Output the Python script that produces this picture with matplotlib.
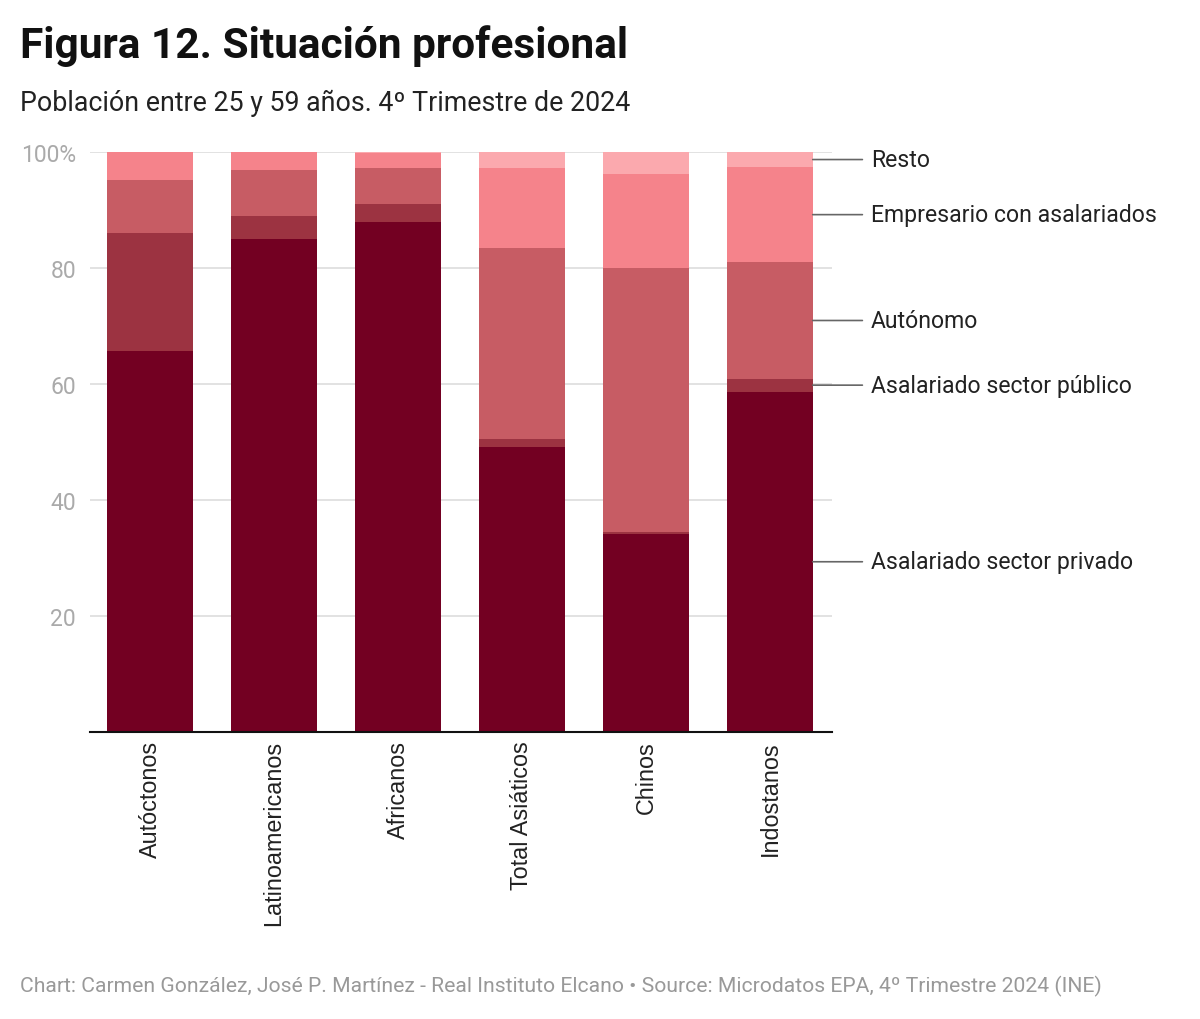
import numpy as np
import matplotlib
matplotlib.use("Agg")
import matplotlib.pyplot as plt

plt.rcParams['font.family'] = ['Roboto', 'DejaVu Sans']

categories = ['Autóctonos', 'Latinoamericanos', 'Africanos', 'Total Asiáticos', 'Chinos', 'Indostanos']
privado = [65.7, 85.0, 87.9, 49.1, 34.1, 58.7]
publico = [20.3, 4.0, 3.1, 1.4, 0.3, 2.2]
autonomo = [9.2, 7.9, 6.2, 33.0, 45.6, 20.1]
empresario = [4.8, 3.1, 2.6, 13.7, 16.2, 16.4]
resto = [0.0, 0.0, 0.2, 2.8, 3.8, 2.6]

series_names = ['Asalariado sector privado', 'Asalariado sector público', 'Autónomo',
                'Empresario con asalariados', 'Resto']
series = [privado, publico, autonomo, empresario, resto]
colors = ['#730022', '#9c3341', '#c75c64', '#f5838b', '#fba9ae']

yticks = [20, 40, 60, 80, 100]
ytick_labels = ['20', '40', '60', '80', '100%']

fig = plt.figure(figsize=(12, 10.2), dpi=100)
ax = fig.add_axes([0.075, 0.2814, 0.6183, 0.5686])

x = np.arange(len(categories))
width = 0.69
bottom = np.zeros(len(categories))
for vals, col in zip(series, colors):
    ax.bar(x, vals, width, bottom=bottom, color=col, linewidth=0, zorder=2)
    bottom += np.array(vals)

ax.set_xlim(-0.484, 5.5)
ax.set_ylim(0, 100)
ax.set_yticks(yticks)
ax.set_yticklabels(ytick_labels)
ax.grid(axis='y', color='#e2e2e2', linewidth=1.4, zorder=0)
ax.set_axisbelow(True)
ax.tick_params(axis='y', length=0, pad=10, labelsize=16.5, labelcolor='#aaaaaa')
ax.tick_params(axis='x', length=0, pad=6)
ax.set_xticks(x)
ax.set_xticklabels(categories, rotation=90, fontsize=16.8, family='Liberation Sans', color='#222222', va='top')
for side in ['top', 'right', 'left']:
    ax.spines[side].set_visible(False)
ax.spines['bottom'].set_color('#111111')
ax.spines['bottom'].set_linewidth(1.5)

# series labels next to the last bar
last = len(categories) - 1
cum = 0.0
for name, vals in zip(series_names, series):
    mid = cum + vals[last] / 2
    cum += vals[last]
    ax.annotate(name, xy=(last + width / 2, mid), xytext=(58, 0), textcoords='offset pixels',
                ha='left', va='center', fontsize=16.6, color='#222222', annotation_clip=False,
                arrowprops=dict(arrowstyle='-', color='#666666', lw=1.2, shrinkA=4, shrinkB=0))

fig.text(0.0167, 0.955, 'Figura 12. Situación profesional', fontsize=30.5, fontweight='bold',
         color='#111111', va='center', ha='left')
fig.text(0.0167, 0.899, 'Población entre 25 y 59 años. 4º Trimestre de 2024', fontsize=19.3,
         color='#222222', va='center', ha='left')
fig.text(0.0167, 0.033, 'Chart: Carmen González, José P. Martínez - Real Instituto Elcano • Source: Microdatos EPA, 4º Trimestre 2024 (INE)',
         fontsize=15.2, color='#999999', va='center', ha='left')

fig.savefig('out.png', dpi=100, facecolor='white')
